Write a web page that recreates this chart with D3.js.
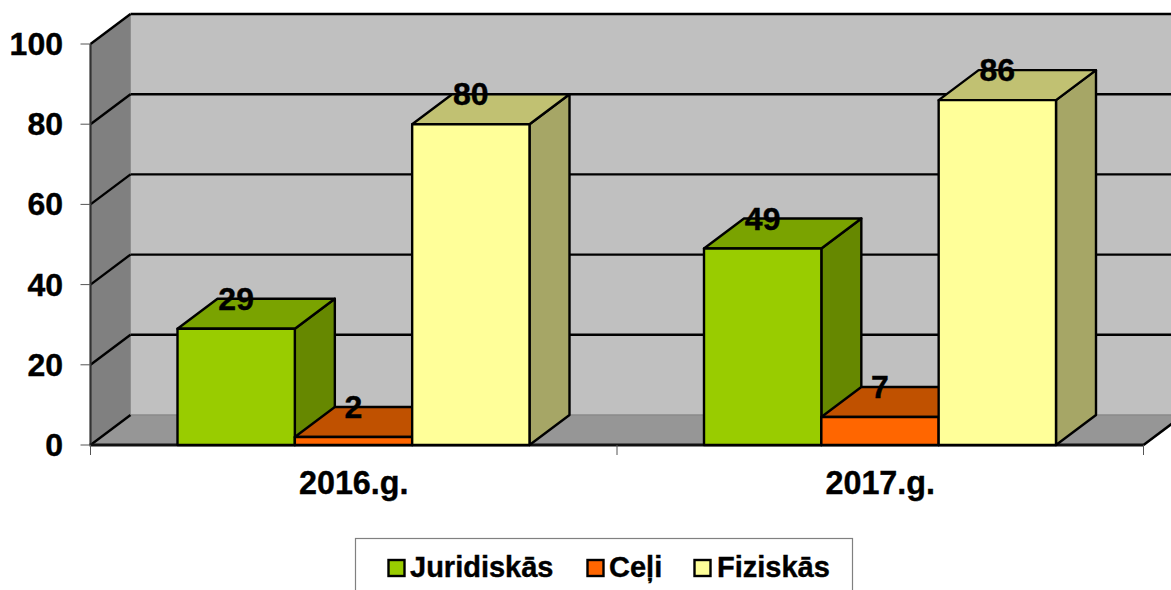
<!DOCTYPE html>
<html><head><meta charset="utf-8">
<script src="https://cdn.jsdelivr.net/npm/d3@7"></script>
<style>html,body{margin:0;padding:0;background:#fff;overflow:hidden}svg{display:block}
text{font-family:"Liberation Sans",Arial,sans-serif;font-weight:bold;fill:#000;stroke:#000;stroke-width:.4px}</style>
</head><body><svg id="c" width="1171" height="590"></svg>
<script>
const categories = ["2016.g.", "2017.g."];
const seriesNames = ["Juridiskās", "Ceļi", "Fiziskās"];
const juridiskas = [29, 49];
const celi = [2, 7];
const fiziskas = [80, 86];
const yTicks = [0, 20, 40, 60, 80, 100];
const frontColors = ["#99cc00", "#ff6600", "#ffff99"];
const sideColors = ["#668800", "#aa4400", "#a6a666"];
const topColors = ["#7aa300", "#c05100", "#c1c172"];
const values = [juridiskas, celi, fiziskas];

const DX = 40, DY = -30;
const svg = d3.select("#c");
const y = d3.scaleLinear().domain([0, 100]).range([445, 44]);
const x0 = d3.scaleBand().domain(categories).range([90.5, 1143.5]);
const x1 = d3.scaleBand().domain(d3.range(seriesNames.length)).range([87, 439]);
const L = x0.range()[0], R = x0.range()[1], Y0 = y(0), YT = y(100);
const poly = (pts, fill, stroke, sw) => svg.append("polygon")
  .attr("points", pts.map(p => p.join(",")).join(" "))
  .attr("fill", fill).attr("stroke", stroke || "none").attr("stroke-width", sw || 0)
  .attr("stroke-linejoin", "round");
const line = (a, b, c, w) => svg.append("line").attr("x1", a[0]).attr("y1", a[1]).attr("x2", b[0]).attr("y2", b[1])
  .attr("stroke", c).attr("stroke-width", w);

// walls
poly([[L + DX, YT + DY], [1191, YT + DY], [1191, Y0 + DY], [L + DX, Y0 + DY]], "#c0c0c0");
poly([[L, Y0], [L + DX, Y0 + DY], [L + DX, YT + DY], [L, YT]], "#808080");
poly([[L, Y0], [R, Y0], [R + DX, Y0 + DY], [L + DX, Y0 + DY]], "#969696");
line([L + DX, Y0 + DY], [1191, Y0 + DY], "#8a8a8a", 1.5);
line([L + DX, Y0 + DY], [L + DX, YT + DY], "#8f8f8f", 1);

// gridlines
yTicks.forEach(t => {
  const yy = y(t);
  line([L, yy], [L + DX, yy + DY], "#000", 2.4);
  if (t > 0) line([L + DX, yy + DY], [1191, yy + DY], "#000", 2.4);
});
line([R, Y0], [R + DX, Y0 + DY], "#000", 2.6);
line([L, YT], [L, Y0], "#333", 2.2);
line([L - 1, Y0], [R, Y0], "#111", 2.8);

// ticks
yTicks.forEach(t => line([L - 10, y(t)], [L, y(t)], "#555", 1));
[L, (L + R) / 2, R].forEach(v => line([v, Y0], [v, Y0 + 10], "#555", 1));

// bars
categories.forEach((cat, ci) => {
  const gx = x0(cat);
  seriesNames.forEach((s, si) => {
    const a = gx + x1(si), b = a + x1.bandwidth(), v = values[si][ci], t = y(v);
    poly([[b, Y0], [b + DX, Y0 + DY], [b + DX, t + DY], [b, t]], sideColors[si], "#000", 2.4);
    poly([[a, t], [a + DX, t + DY], [b + DX, t + DY], [b, t]], topColors[si], "#000", 2.4);
    poly([[a, t], [b, t], [b, Y0], [a, Y0]], frontColors[si], "#000", 2.4);
  });
});
// value labels above everything
categories.forEach((cat, ci) => {
  const gx = x0(cat);
  seriesNames.forEach((s, si) => {
    const v = values[si][ci];
    svg.append("text").attr("x", gx + x1(si) + x1.bandwidth() / 2)
      .attr("y", y(v) - 19).attr("text-anchor", "middle")
      .attr("font-size", 32).text(v);
  });
});

// axis labels
yTicks.forEach(t => svg.append("text").attr("x", 63).attr("y", y(t) + 11)
  .attr("text-anchor", "end").attr("font-size", 32).text(t));
categories.forEach(cat => svg.append("text").attr("x", x0(cat) + x0.bandwidth() / 2)
  .attr("y", 494).attr("text-anchor", "middle").attr("font-size", 32.3).text(cat));

// legend
svg.append("rect").attr("x", 355.5).attr("y", 538.5).attr("width", 497).attr("height", 70)
  .attr("fill", "#fff").attr("stroke", "#808080").attr("stroke-width", 1.2);
const legendSwatch = [388.5, 587.5, 694.5], legendText = [410, 609, 717];
seriesNames.forEach((s, i) => {
  svg.append("rect").attr("x", legendSwatch[i]).attr("y", 560).attr("width", 16).attr("height", 16)
    .attr("fill", frontColors[i]).attr("stroke", "#000").attr("stroke-width", 2.4);
  svg.append("text").attr("x", legendText[i]).attr("y", 576.5).attr("font-size", 29).text(s);
});
</script></body></html>
